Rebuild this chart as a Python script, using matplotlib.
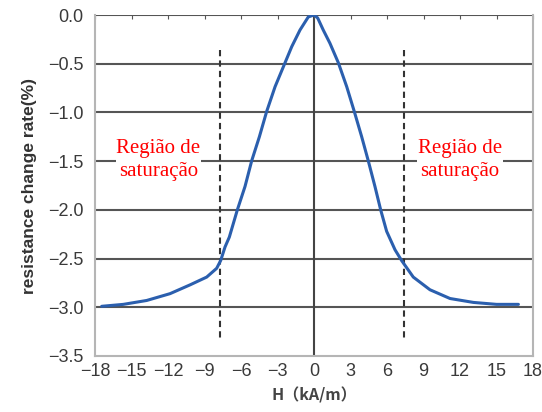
import matplotlib
matplotlib.use("Agg")
import matplotlib.pyplot as plt

# Data
h_values = [-17.45, -15.67, -13.75, -11.83, -10.19, -8.82, -8.0, -7.67, -7.31, -6.96, -6.3, -5.67,
            -5.12, -4.49, -3.89, -3.2, -2.38, -1.83, -1.15, -0.47, 0.0,
            0.3, 0.76, 1.31, 2.0, 2.69, 3.31, 3.92, 4.46, 5.01, 5.48, 5.97, 6.66, 7.2,
            8.16, 9.53, 11.18, 13.1, 15.0, 16.8]
rate_values = [-2.99, -2.97, -2.93, -2.86, -2.77, -2.69, -2.60, -2.52, -2.38, -2.28, -2.0, -1.76,
               -1.496, -1.25, -0.99, -0.736, -0.49, -0.325, -0.154, -0.02, 0.0,
               -0.03, -0.154, -0.29, -0.49, -0.736, -0.99, -1.25, -1.496, -1.76, -2.0, -2.22, -2.41, -2.52,
               -2.69, -2.82, -2.91, -2.95, -2.97, -2.97]
sat_left_x = -7.7
sat_right_x = 7.4
sat_y_range = (-0.36, -3.32)
x_ticks = [-18, -15, -12, -9, -6, -3, 0, 3, 6, 9, 12, 15, 18]
y_ticks = [0.0, -0.5, -1.0, -1.5, -2.0, -2.5, -3.0, -3.5]
region_label = "Região de\nsaturação"
x_label = "H（kA/m）"
y_label = "resistance change rate(%)"

fig = plt.figure(figsize=(5.42, 4.12), dpi=100)
ax = fig.add_axes([95/542, 56/412, 438/542, 341/412])

ax.set_xlim(-18, 18)
ax.set_ylim(-3.5, 0.0)

# gridlines
for y in y_ticks[:-1]:
    ax.axhline(y, color='#555555', lw=1.5, zorder=1)
ax.axvline(0, color='#444444', lw=1.5, zorder=1)

for s in ['left', 'bottom', 'right']:
    ax.spines[s].set_color('#b5b5b5')
    ax.spines[s].set_linewidth(1.5)
ax.spines['top'].set_visible(False)

ax.plot(h_values, rate_values, color='#2b5fae', lw=2.2, solid_joinstyle='round',
        solid_capstyle='round', zorder=3)

for xv in (sat_left_x, sat_right_x):
    ax.plot([xv, xv], list(sat_y_range), color='#333333', lw=1.5, ls=(0, (3, 2)), zorder=2)

ax.set_xticks(x_ticks)
ax.set_xticklabels([str(v).replace('-', '−') for v in x_ticks], family='Liberation Sans')
ax.set_yticks(y_ticks)
ax.set_yticklabels([f"{v:.1f}".replace('-', '−') for v in y_ticks], family='Liberation Sans')
ax.tick_params(axis='x', which='both', bottom=False, top=True, direction='in', length=3,
               color='#555555', labelsize=13, labelcolor='#3a3a3a', pad=5)
ax.tick_params(axis='y', left=False, labelsize=13, labelcolor='#3a3a3a', pad=5)

for xv in (-12.8, 12.0):
    ax.text(xv, -1.49, region_label, color='red', fontsize=15, family='Liberation Serif',
            ha='center', va='center', linespacing=1.3,
            bbox=dict(facecolor='white', edgecolor='none', pad=0.5), zorder=4)

ax.set_xlabel(x_label, fontsize=11.5, fontweight='bold', color='#444444',
              family=['Noto Sans CJK JP', 'DejaVu Sans'], labelpad=5)
ax.set_ylabel(y_label, fontsize=12.5, fontweight='bold', color='#333333',
              family='Liberation Sans', labelpad=8)

fig.savefig("out.png", dpi=100)
